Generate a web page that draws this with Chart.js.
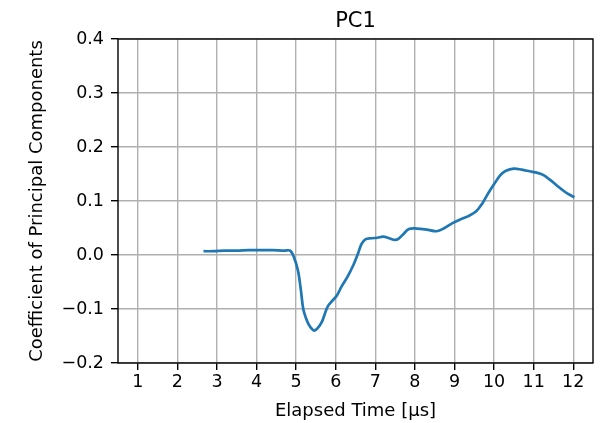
<!DOCTYPE html>
<html>
<head>
<meta charset="utf-8">
<script src="https://cdn.jsdelivr.net/npm/chart.js@4"></script>
<style>
  html, body { margin: 0; padding: 0; background: #fff; }
  #wrap { width: 603px; height: 423px; }
</style>
</head>
<body>
<div id="wrap"><canvas id="pc-chart" width="603" height="423"></canvas></div>
<script>
// elapsed time [µs] and PC1 coefficient
const timeValues = [2.66, 2.9, 3.2, 3.5, 3.8, 4.1, 4.4, 4.7, 4.85, 4.95, 5.05, 5.12, 5.18, 5.25, 5.32, 5.40, 5.46, 5.55, 5.65, 5.72, 5.80, 5.90, 6.03, 6.15, 6.30, 6.45, 6.55, 6.65, 6.75, 6.9, 7.05, 7.2, 7.35, 7.5, 7.6, 7.7, 7.85, 8.05, 8.3, 8.55, 8.75, 8.95, 9.15, 9.35, 9.55, 9.7, 9.85, 10.0, 10.15, 10.3, 10.5, 10.7, 10.9, 11.1, 11.25, 11.4, 11.55, 11.7, 11.85, 12.03];
const pc1Values = [0.007, 0.007, 0.008, 0.008, 0.009, 0.009, 0.009, 0.008, 0.008, -0.005, -0.03, -0.065, -0.100, -0.117, -0.129, -0.137, -0.140, -0.135, -0.124, -0.110, -0.095, -0.086, -0.075, -0.058, -0.040, -0.018, 0.000, 0.020, 0.029, 0.031, 0.032, 0.034, 0.031, 0.028, 0.031, 0.038, 0.048, 0.049, 0.047, 0.044, 0.050, 0.059, 0.066, 0.072, 0.081, 0.095, 0.114, 0.131, 0.147, 0.156, 0.160, 0.158, 0.155, 0.152, 0.148, 0.140, 0.131, 0.122, 0.114, 0.107];
const xTicks = [1, 2, 3, 4, 5, 6, 7, 8, 9, 10, 11, 12];
const yTicks = [-0.2, -0.1, 0.0, 0.1, 0.2, 0.3, 0.4];

const FONT = 'DejaVu Sans';

// title over the plot area and the black frame around it
const framePlugin = {
    id: 'frame',
    afterDraw(chart) {
        const { ctx, chartArea: a } = chart;
        ctx.save();
        ctx.strokeStyle = '#000';
        ctx.lineWidth = 1.4;
        ctx.strokeRect(a.left, a.top, a.right - a.left, a.bottom - a.top);
        ctx.fillStyle = '#000';
        ctx.font = '21px "' + FONT + '"';
        ctx.textAlign = 'center';
        ctx.textBaseline = 'alphabetic';
        ctx.fillText('PC1', (a.left + a.right) / 2, 27);
        ctx.restore();
    }
};

const points = timeValues.map((t, i) => ({ x: t, y: pc1Values[i] }));

new Chart(document.getElementById('pc-chart'), {
    type: 'line',
    data: {
        datasets: [{
            data: points,
            borderColor: '#1f77b4',
            borderWidth: 2.7,
            pointRadius: 0,
            tension: 0.35,
            fill: false
        }]
    },
    options: {
        responsive: false,
        animation: false,
        layout: { padding: { top: 39, right: 10, left: 0, bottom: 0 } },
        plugins: { legend: { display: false }, tooltip: { enabled: false } },
        scales: {
            x: {
                type: 'linear',
                min: 0.5,
                max: 12.5,
                afterBuildTicks: s => { s.ticks = xTicks.map(v => ({ value: v })); },
                afterFit: s => { s.height = 60; },
                grid: { color: '#b0b0b0', lineWidth: 1.4, tickLength: 7, tickColor: '#000', tickWidth: 1.4 },
                border: { display: false },
                ticks: { color: '#000', font: { family: FONT, size: 17.5 }, padding: 2, maxRotation: 0 },
                title: { display: true, text: 'Elapsed Time [μs]', color: '#000', font: { family: FONT, size: 18 }, padding: { top: 0, bottom: 1 } }
            },
            y: {
                min: -0.2,
                max: 0.4,
                afterBuildTicks: s => { s.ticks = yTicks.map(v => ({ value: v })); },
                afterFit: s => { s.width = 118; },
                grid: { color: '#b0b0b0', lineWidth: 1.4, tickLength: 7, tickColor: '#000', tickWidth: 1.4 },
                border: { display: false },
                ticks: {
                    color: '#000',
                    font: { family: FONT, size: 17.5 },
                    padding: 7,
                    callback: v => {
                        const s = (Math.abs(v) < 1e-9 ? 0 : v).toFixed(1);
                        return s.replace('-', '\u2212');
                    }
                },
                title: { display: true, text: 'Coefficient of Principal Components', color: '#000', font: { family: FONT, size: 18 }, padding: { top: 27, bottom: 0 } }
            }
        }
    },
    plugins: [framePlugin]
});
</script>
</body>
</html>
